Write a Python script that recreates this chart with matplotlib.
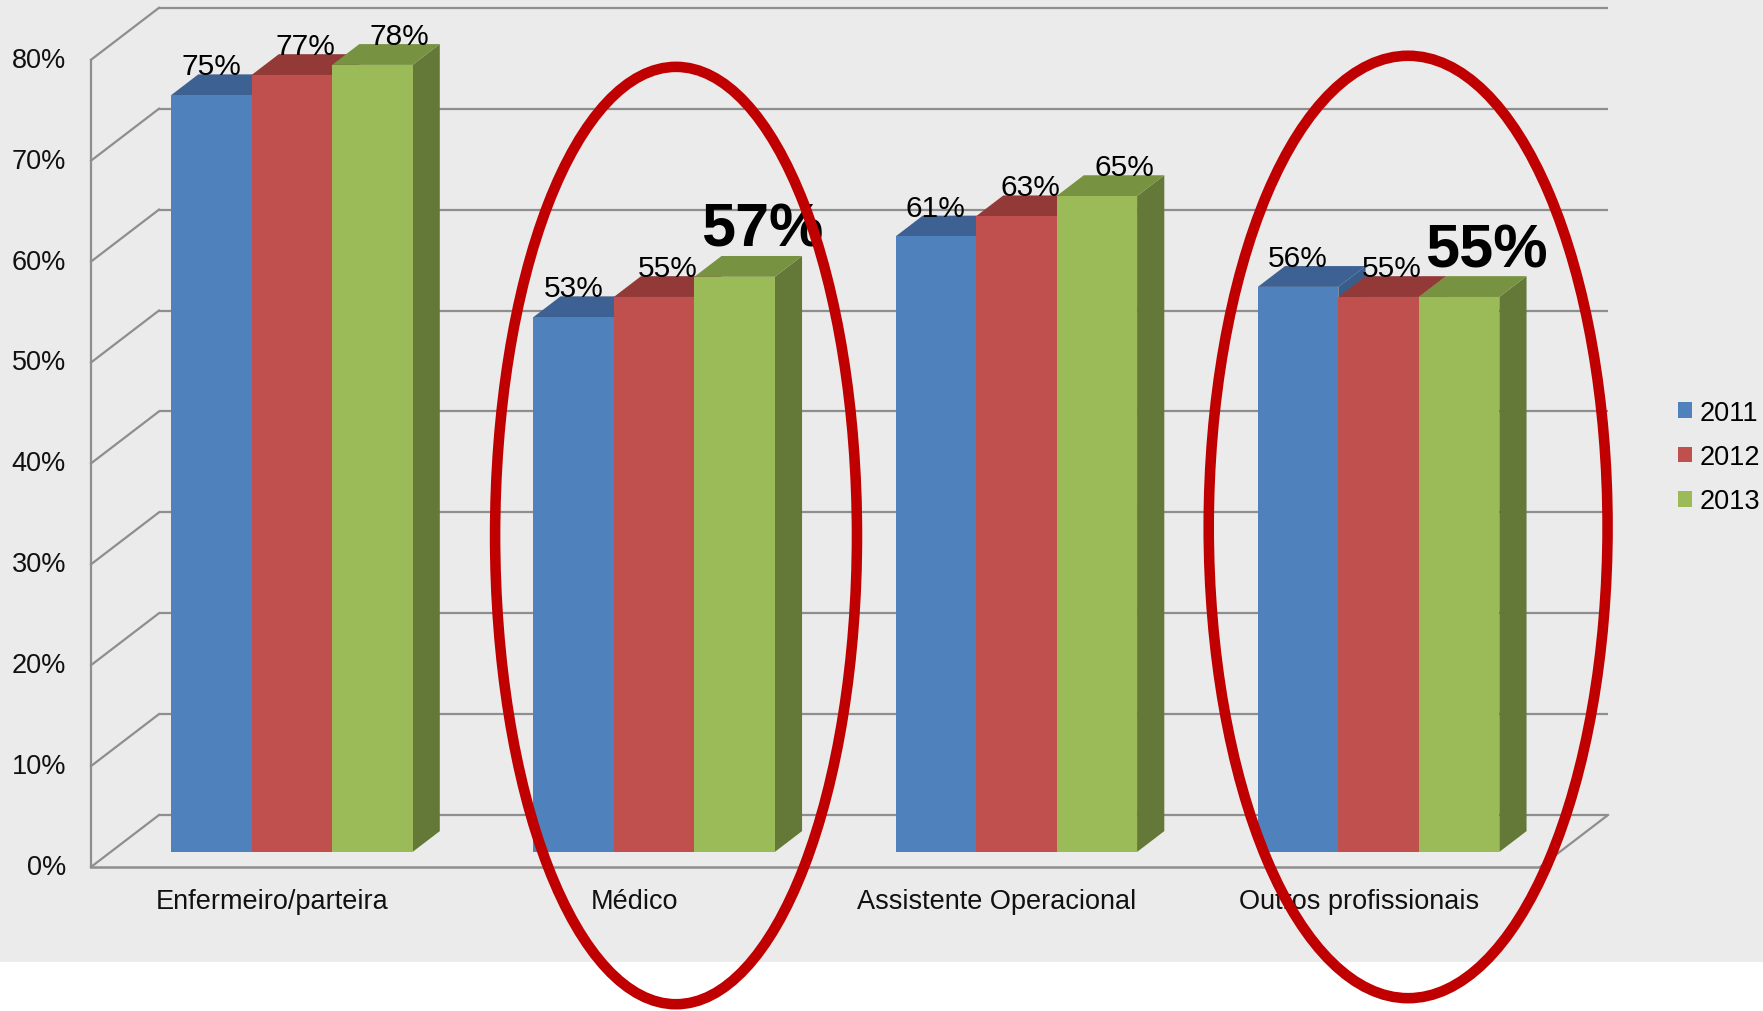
import matplotlib
matplotlib.use("Agg")
import matplotlib.pyplot as plt
from matplotlib.patches import Polygon, Rectangle, Ellipse, Patch

plt.rcParams["font.family"] = ["Liberation Sans", "DejaVu Sans"]

# ---- data ---------------------------------------------------------------
categories = ["Enfermeiro/parteira", "Médico", "Assistente Operacional", "Outros profissionais"]
years = ["2011", "2012", "2013"]
values_2011 = [75, 53, 61, 56]
values_2012 = [77, 55, 63, 55]
values_2013 = [78, 57, 65, 55]
series = [values_2011, values_2012, values_2013]
y_ticks = [0, 10, 20, 30, 40, 50, 60, 70, 80]
tick_labels = ["0%", "10%", "20%", "30%", "40%", "50%", "60%", "70%", "80%"]
highlighted = ["Médico", "Outros profissionais"]

# ---- styling ------------------------------------------------------------
front_colors = ["#4F81BD", "#C0504D", "#9BBB59"]
top_colors = ["#3C6192", "#933A38", "#779240"]
side_colors = ["#385D8A", "#8C3836", "#647837"]
grid_color = "#8E8E8E"
bg_color = "#EBEBEB"

W, H = 1763, 1012
fig = plt.figure(figsize=(W / 100, H / 100), dpi=100)
fig.patch.set_facecolor("white")

# pixel layout of the front plane of the plot box
x0_px, px_per_cat = 91.0, 362.25
y0_px, px_per_pct = 868.0, 10.09
ax = fig.add_axes([0, 0, 1, 1])
ax.set_xlim(-x0_px / px_per_cat, (W - x0_px) / px_per_cat)
ax.set_ylim(-(H - y0_px) / px_per_pct, y0_px / px_per_pct)
ax.axis("off")

# depth vector of the 3-D box (front -> back) in data units
DX, DY = 68 / px_per_cat, 52 / px_per_pct
d_front, d_back = 0.29, 0.69   # bar depth span as a fraction of box depth


def P(x, y, d):
    return (x + d * DX, y + d * DY)


# background panel
ax.add_patch(Rectangle((0, (H - 963) / H), 1, 1, transform=ax.transAxes,
                       facecolor=bg_color, edgecolor="none", zorder=0))

n_cat = len(categories)
n_ser = len(series)

# back wall gridlines and left wall diagonals
for t in y_ticks:
    ax.plot([DX, n_cat + DX], [t + DY, t + DY], color=grid_color, lw=1.6, zorder=1,
            solid_capstyle="butt")
    ax.plot([0, DX], [t, t + DY], color=grid_color, lw=1.6, zorder=1)
# front vertical axis, floor edges
ax.plot([0, 0], [0, y_ticks[-1]], color=grid_color, lw=1.6, zorder=1)
ax.plot([0, n_cat], [0, 0], color=grid_color, lw=1.8, zorder=1)
ax.plot([n_cat, n_cat + DX], [0, DY], color=grid_color, lw=1.6, zorder=1)

# y tick labels
for t, lab in zip(y_ticks, tick_labels):
    ax.text(-25 / px_per_cat, t, lab, ha="right", va="center", fontsize=19.5,
            color="#111111", zorder=5)

# bars
bar_w = 1.0 / (n_ser + 1.5)
gap = 1.5 * bar_w
label_depth = [d_front, (d_front + d_back) / 2, d_back]
for i, cat in enumerate(categories):
    for j in range(n_ser):
        v = series[j][i]
        xl = i + gap / 2 + j * bar_w
        xr = xl + bar_w
        z = 2 + j * 0.1
        side = [P(xr, 0, d_front), P(xr, 0, d_back), P(xr, v, d_back), P(xr, v, d_front)]
        top = [P(xl, v, d_front), P(xr, v, d_front), P(xr, v, d_back), P(xl, v, d_back)]
        front = [P(xl, 0, d_front), P(xr, 0, d_front), P(xr, v, d_front), P(xl, v, d_front)]
        ax.add_patch(Polygon(side, closed=True, facecolor=side_colors[j], edgecolor="none", zorder=z))
        ax.add_patch(Polygon(top, closed=True, facecolor=top_colors[j], edgecolor="none", zorder=z + 0.01))
        ax.add_patch(Polygon(front, closed=True, facecolor=front_colors[j], edgecolor="none", zorder=z + 0.02))

        # value label
        big = (cat in highlighted) and j == n_ser - 1
        lx = (xl + xr) / 2 + label_depth[j] * DX
        ly = v + d_back * DY + (1.0 if big else 0.0)
        ax.text(lx, ly, f"{v}%", ha="center", va="baseline",
                fontsize=44 if big else 21.5, fontweight="bold" if big else "normal",
                color="black", zorder=6)

# category labels
for i, cat in enumerate(categories):
    ax.text(i + 0.5, (y0_px - 902) / px_per_pct, cat, ha="center", va="center",
            fontsize=19.5, color="#111111", zorder=5)

# highlight ellipses
ax.add_patch(Ellipse((1.615, 32.85), 0.999, 92.9, facecolor="none",
                     edgecolor="#C00000", lw=7.6, zorder=10))
ax.add_patch(Ellipse((3.636, 33.7), 1.101, 93.4, facecolor="none",
                     edgecolor="#C00000", lw=7.6, zorder=10))

# legend
handles = [Patch(facecolor=c, edgecolor="none") for c in front_colors]
ax.legend(handles, years, loc="center left",
          bbox_to_anchor=(1678 / W, 1 - 458 / H), bbox_transform=fig.transFigure,
          frameon=False, fontsize=19.5, handlelength=0.5, handleheight=0.5,
          handletextpad=0.3, labelspacing=0.68, borderpad=0, borderaxespad=0)

fig.savefig("out.png", dpi=100, facecolor=fig.get_facecolor())
